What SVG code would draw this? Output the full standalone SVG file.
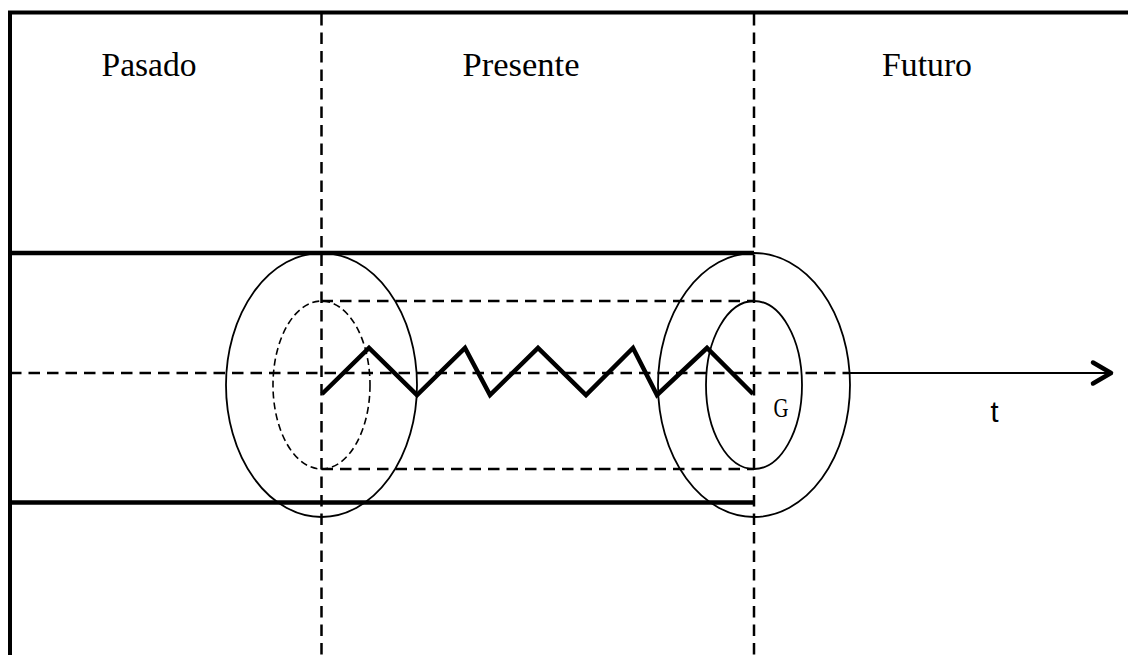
<svg xmlns="http://www.w3.org/2000/svg" width="1128" height="655" viewBox="0 0 1128 655">
<style>
.lbl{font-family:"Liberation Serif","Times New Roman",serif;font-size:33px;fill:#000}
.thin{fill:none;stroke:#000;stroke-width:1.8}
.dash{fill:none;stroke:#000;stroke-width:2.5;stroke-dasharray:11.5 7}
.thick{fill:none;stroke:#000;stroke-width:4.5}
</style>
<rect width="1128" height="655" fill="#fff"/>
<g id="frame">
<path d="M10 655 V12.5 H1128" fill="none" stroke="#000" stroke-width="4"/>
</g>
<g id="labels">
<text class="lbl" x="149" y="76" text-anchor="middle" textLength="95" lengthAdjust="spacingAndGlyphs">Pasado</text>
<text class="lbl" x="521" y="76" text-anchor="middle" textLength="117" lengthAdjust="spacingAndGlyphs">Presente</text>
<text class="lbl" x="927" y="76" text-anchor="middle" textLength="90" lengthAdjust="spacingAndGlyphs">Futuro</text>
</g>
<g id="connectors">
<line class="dash" x1="321.5" y1="14" x2="321.5" y2="655"/>
<line class="dash" x1="754" y1="14" x2="754" y2="655"/>
<line class="thick" x1="10" y1="253" x2="754" y2="253"/>
<line class="thick" x1="10" y1="502.5" x2="754" y2="502.5"/>
<line class="dash" x1="321.5" y1="301" x2="754" y2="301" stroke-width="2"/>
<line class="dash" x1="321.5" y1="469" x2="754" y2="469" stroke-width="2"/>
<line class="dash" x1="10" y1="373" x2="850" y2="373"/>
<line x1="850" y1="373" x2="1110" y2="373" stroke="#000" stroke-width="2.2"/>
<polyline points="1093,362.5 1111,373 1093,383.5" fill="none" stroke="#000" stroke-width="4.5" stroke-linecap="round" stroke-linejoin="round"/>
</g>
<g id="past-cylinder">
<ellipse class="thin" cx="321.5" cy="385" rx="95.5" ry="132"/>
<ellipse cx="321.5" cy="385" rx="48.5" ry="84" fill="none" stroke="#000" stroke-width="1.6" stroke-dasharray="7 4"/>
</g>
<g id="future-cylinder">
<ellipse class="thin" cx="754" cy="385" rx="96" ry="132"/>
<ellipse class="thin" cx="754" cy="385" rx="48" ry="84"/>
<text x="773.5" y="417" font-family="Liberation Serif, Times New Roman, serif" font-size="27" textLength="15" lengthAdjust="spacingAndGlyphs">G</text>
</g>
<g id="zigzag">
<polyline points="322,394 369,348 417,395 465,348 490,395 538,348 586,395 633,348 657,395 707,348 753,394" fill="none" stroke="#000" stroke-width="4.5" stroke-linejoin="miter"/>
</g>
<g id="time-label">
<text x="994.5" y="422" text-anchor="middle" font-family="Liberation Sans, Arial, sans-serif" font-size="29">t</text>
</g>
</svg>
